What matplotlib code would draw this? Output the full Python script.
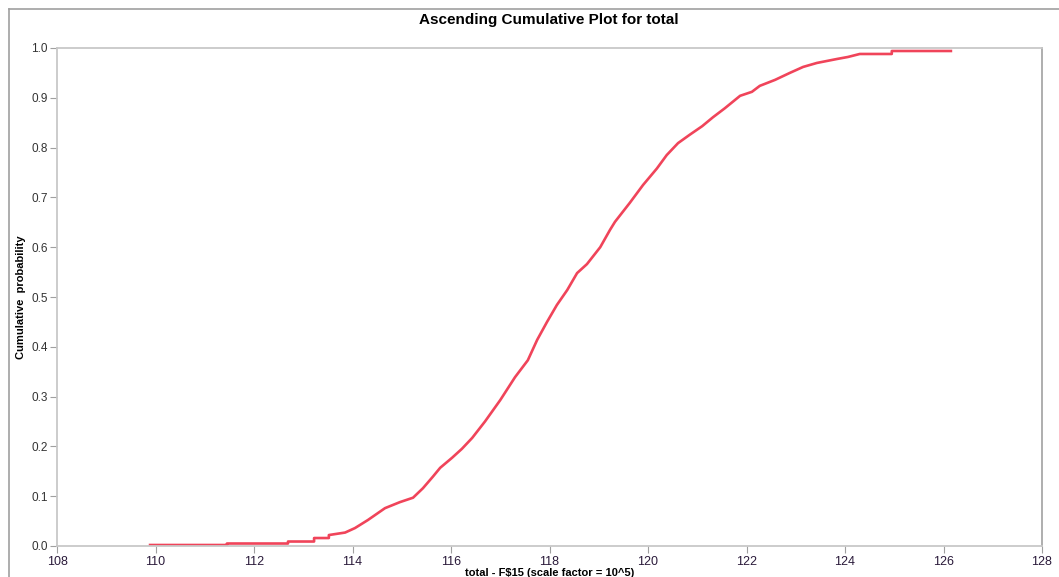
import matplotlib.pyplot as plt
from matplotlib.lines import Line2D

# values (x in units of 10^5)
total_vals = [109.89, 111.45, 111.45, 112.69, 112.69, 113.22, 113.22, 113.52, 113.52,
              113.85, 114.05, 114.31, 114.66, 114.96, 115.23, 115.43, 115.63, 115.78,
              116.02, 116.22, 116.43, 116.69, 117.0, 117.30, 117.56, 117.75, 117.95,
              118.15, 118.36, 118.56, 118.76, 119.03, 119.23, 119.33, 119.63, 119.90,
              120.18, 120.38, 120.61, 120.85, 121.1, 121.32, 121.56, 121.87, 122.11,
              122.27, 122.58, 122.88, 123.15, 123.43, 123.84, 124.06, 124.30, 124.95,
              124.95, 126.15]
cum_prob = [0.002, 0.002, 0.005, 0.005, 0.009, 0.009, 0.016, 0.016, 0.022,
            0.027, 0.036, 0.052, 0.076, 0.088, 0.097, 0.116, 0.139, 0.157,
            0.177, 0.195, 0.217, 0.250, 0.293, 0.339, 0.373, 0.414, 0.450,
            0.484, 0.514, 0.548, 0.566, 0.600, 0.635, 0.651, 0.689, 0.725,
            0.758, 0.785, 0.809, 0.826, 0.843, 0.861, 0.879, 0.904, 0.912,
            0.924, 0.936, 0.950, 0.962, 0.970, 0.978, 0.982, 0.988, 0.988,
            0.994, 0.994]

x_ticks = list(range(108, 129, 2))
y_ticks = [0.0, 0.1, 0.2, 0.3, 0.4, 0.5, 0.6, 0.7, 0.8, 0.9, 1.0]

plt.rcParams['font.family'] = ['Liberation Sans', 'DejaVu Sans']

fig = plt.figure(figsize=(10.59, 5.77), dpi=100)
ax = fig.add_axes([57 / 1059, 31 / 577, 985 / 1059, 498 / 577])

ax.plot(total_vals, cum_prob, color='#f0445a', linewidth=1.9, solid_joinstyle='round')

ax.set_xlim(108, 128)
ax.set_ylim(0, 1)
ax.set_xticks(x_ticks)
ax.set_yticks(y_ticks)
ax.set_yticklabels(['%.1f' % v for v in y_ticks])

for s in ax.spines.values():
    s.set_color('#c8c8c8')
    s.set_linewidth(1.3)
ax.spines['right'].set_color('#a8a8a8')

ax.tick_params(axis='y', length=5, color='#a0a0a0', labelsize=8.5, labelcolor='#333333', pad=1.5)
ax.tick_params(axis='x', length=5, color='#a0a0a0', labelsize=9, labelcolor='#2a1a3a', pad=2)

ax.set_xlabel('total - F$15 (scale factor = 10^5)', fontsize=8, fontweight='bold', labelpad=0)
ax.set_ylabel('Cumulative  probability', fontsize=8, fontweight='bold', labelpad=4)
fig.text(0.518, 0.966, 'Ascending Cumulative Plot for total', ha='center', va='center',
         fontsize=11, fontweight='bold')

# outer frame of the report
fig.add_artist(Line2D([9 / 1059, 1.0], [1 - 9 / 577, 1 - 9 / 577], color='#a0a0a0', linewidth=1.2))
fig.add_artist(Line2D([9 / 1059, 9 / 1059], [0, 1 - 9 / 577], color='#a0a0a0', linewidth=1.2))

fig.savefig('out.png', dpi=100)
